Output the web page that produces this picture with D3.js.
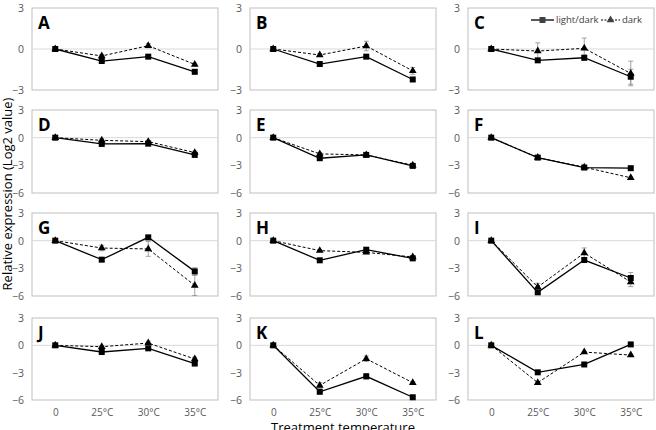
<!DOCTYPE html>
<html>
<head>
<meta charset="utf-8">
<script src="https://cdn.jsdelivr.net/npm/d3@7"></script>
<style>
  body { margin: 0; background: #fff; }
  svg { display: block; font-family: "Open Sans", "Noto Sans", sans-serif; }
</style>
</head>
<body>
<script>
// Data (Log2 relative expression)
const temps = ["0", "25°C", "30°C", "35°C"];
const panels = ["A", "B", "C", "D", "E", "F", "G", "H", "I", "J", "K", "L"];
const seriesNames = ["light/dark", "dark"];

const lightDark = [
  [0, -0.88, -0.56, -1.67],
  [0, -1.10, -0.56, -2.23],
  [0, -0.83, -0.64, -2.03],
  [0, -0.68, -0.65, -1.87],
  [0, -2.23, -1.87, -3.06],
  [0, -2.16, -3.24, -3.31],
  [0, -2.06, 0.36, -3.33],
  [0, -2.13, -0.98, -1.92],
  [0, -5.60, -2.10, -4.05],
  [0, -0.73, -0.33, -2.00],
  [0, -5.10, -3.40, -5.70],
  [0, -2.96, -2.10, 0.10]
];
const dark = [
  [0, -0.51, 0.24, -1.13],
  [0, -0.44, 0.22, -1.60],
  [0, -0.15, 0.05, -1.79],
  [0, -0.29, -0.43, -1.62],
  [0, -1.76, -1.87, -2.99],
  [0, -2.16, -3.20, -4.35],
  [0, -0.80, -0.90, -4.85],
  [0, -1.08, -1.27, -1.77],
  [0, -5.02, -1.34, -4.48],
  [0, -0.15, 0.25, -1.50],
  [0, -4.40, -1.48, -4.10],
  [0, -4.10, -0.74, -1.07]
];
const lightDarkErr = [
  [0, 0.1, 0.1, 0.15],
  [0, 0.1, 0.1, 0.15],
  [0, 0.1, 0.2, 0.55],
  [0, 0.1, 0.1, 0.15],
  [0, 0.15, 0.1, 0.1],
  [0, 0.1, 0.1, 0.1],
  [0, 0.1, 0.2, 0.4],
  [0, 0.1, 0.2, 0.1],
  [0, 0.15, 0.2, 0.6],
  [0, 0.1, 0.15, 0.2],
  [0, 0.15, 0.3, 0.1],
  [0, 0.1, 0.1, 0.1]
];
const darkErr = [
  [0, 0.1, 0.15, 0.1],
  [0, 0.1, 0.35, 0.25],
  [0, 0.6, 0.75, 0.9],
  [0, 0.15, 0.15, 0.15],
  [0, 0.15, 0.1, 0.1],
  [0, 0.1, 0.1, 0.1],
  [0, 0.3, 0.8, 1.1],
  [0, 0.1, 0.15, 0.1],
  [0, 0.4, 0.55, 0.5],
  [0, 0.1, 0.2, 0.2],
  [0, 0.3, 0.3, 0.1],
  [0, 0.1, 0.1, 0.1]
];
const firstRowTicks = [-3, 0, 3];
const otherRowTicks = [-6, -3, 0, 3];

const w = 656;
const h = 430;

// panel boxes
const colLeft = [32, 250, 468];
const boxW = 186;
const rowTop = [8, 110, 213, 318];
const rowBottom = [90, 193, 296, 400];

const svg = d3.select("body")
              .append("svg")
              .attr("width", w)
              .attr("height", h);

const sq = d3.symbol().type(d3.symbolSquare).size(36);
const tri = d3.symbol().type(d3.symbolTriangle).size(26);

panels.forEach((name, i) => {
  const row = Math.floor(i / 3);
  const col = i % 3;
  const x0 = colLeft[col];
  const ticks = row === 0 ? firstRowTicks : otherRowTicks;

  const xScale = d3.scalePoint()
                   .domain(temps)
                   .range([x0, x0 + boxW])
                   .padding(0.5);
  const yScale = d3.scaleLinear()
                   .domain([d3.min(ticks), d3.max(ticks)])
                   .range([rowBottom[row], rowTop[row]]);

  const g = svg.append("g");

  // frame
  g.append("rect")
   .attr("x", x0)
   .attr("y", rowTop[row])
   .attr("width", boxW)
   .attr("height", rowBottom[row] - rowTop[row])
   .attr("fill", "none")
   .attr("stroke", "#bfbfbf")
   .attr("stroke-width", 1);

  // zero line
  g.append("line")
   .attr("x1", x0)
   .attr("x2", x0 + boxW)
   .attr("y1", yScale(0))
   .attr("y2", yScale(0))
   .attr("stroke", "#d9d9d9")
   .attr("stroke-width", 1);

  // y axis
  const yAxis = d3.axisLeft(yScale)
                  .tickValues(ticks)
                  .tickFormat(d3.format("d"))
                  .tickSize(0)
                  .tickPadding(8);
  const ya = g.append("g")
              .attr("transform", "translate(" + x0 + ",0)")
              .call(yAxis);
  ya.select(".domain").remove();
  ya.selectAll("text")
    .attr("fill", "#595959")
    .attr("font-size", 10.5)
    .attr("font-family", "Open Sans, sans-serif");

  // x axis in bottom row
  if (row === 3) {
    const xAxis = d3.axisBottom(xScale).tickSize(0).tickPadding(9);
    const xa = g.append("g")
                .attr("transform", "translate(0," + rowBottom[row] + ")")
                .call(xAxis);
    xa.select(".domain").remove();
    xa.selectAll("text")
      .attr("fill", "#595959")
      .attr("font-size", 10)
      .attr("font-family", "Open Sans, sans-serif");
  }

  const sets = [
    {vals: dark[i], err: darkErr[i], dash: "3,2", sym: tri},
    {vals: lightDark[i], err: lightDarkErr[i], dash: null, sym: sq}
  ];

  // error bars
  sets.forEach(s => {
    s.vals.forEach((v, k) => {
      const e = s.err[k];
      if (!e) return;
      const cx = xScale(temps[k]);
      const eg = g.append("g").attr("stroke", "#8c8c8c").attr("stroke-width", 0.8);
      eg.append("line").attr("x1", cx).attr("x2", cx)
        .attr("y1", yScale(v + e)).attr("y2", yScale(v - e));
      [v + e, v - e].forEach(t => {
        eg.append("line").attr("x1", cx - 2.5).attr("x2", cx + 2.5)
          .attr("y1", yScale(t)).attr("y2", yScale(t));
      });
    });
  });

  // lines and markers
  sets.forEach(s => {
    const line = d3.line()
                   .x((d, k) => xScale(temps[k]))
                   .y(d => yScale(d));
    g.append("path")
     .datum(s.vals)
     .attr("d", line)
     .attr("fill", "none")
     .attr("stroke", "#000")
     .attr("stroke-width", s.dash ? 1 : 1.3)
     .attr("stroke-dasharray", s.dash);
    g.selectAll(null)
     .data(s.vals)
     .enter()
     .append("path")
     .attr("d", s.sym)
     .attr("transform", (d, k) => "translate(" + xScale(temps[k]) + "," + yScale(d) + ")")
     .attr("fill", "#000");
  });

  // panel letter
  g.append("text")
   .attr("x", x0 + 6)
   .attr("y", rowTop[row] + 21)
   .attr("font-size", 17)
   .attr("font-weight", "bold")
   .attr("fill", "#000")
   .text(name);
});

// legend (in panel C)
const legend = svg.append("g").attr("font-size", 9.5).attr("fill", "#404040");
legend.append("line").attr("x1", 531).attr("x2", 554).attr("y1", 20).attr("y2", 20)
      .attr("stroke", "#000").attr("stroke-width", 1.3);
legend.append("path").attr("d", sq).attr("transform", "translate(542.5,20)");
legend.append("text").attr("x", 556).attr("y", 23).text(seriesNames[0]);
legend.append("line").attr("x1", 601).attr("x2", 620).attr("y1", 20).attr("y2", 20)
      .attr("stroke", "#000").attr("stroke-width", 1).attr("stroke-dasharray", "2,1.5");
legend.append("path").attr("d", tri).attr("transform", "translate(610.5,20)");
legend.append("text").attr("x", 622).attr("y", 23).text(seriesNames[1]);

// axis titles
svg.append("text")
   .attr("transform", "translate(12,194) rotate(-90)")
   .attr("text-anchor", "middle")
   .attr("font-size", 13)
   .attr("fill", "#000")
   .text("Relative expression (Log2 value)");

svg.append("text")
   .attr("x", 343)
   .attr("y", 432)
   .attr("text-anchor", "middle")
   .attr("font-size", 13)
   .attr("fill", "#000")
   .text("Treatment temperature");
</script>
</body>
</html>
